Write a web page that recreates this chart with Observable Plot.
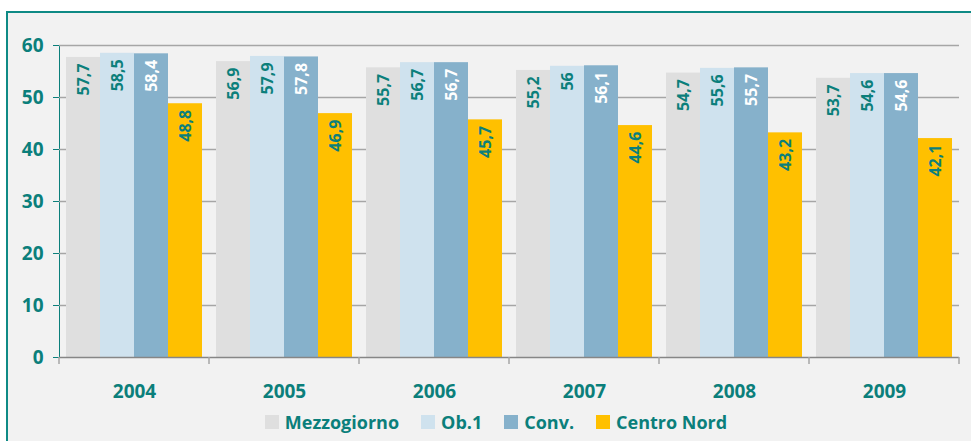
<!DOCTYPE html>
<html><head><meta charset="utf-8">
<script src="https://cdn.jsdelivr.net/npm/d3@7"></script>
<script src="https://cdn.jsdelivr.net/npm/@observablehq/plot@0.6"></script>
<style>
html,body{margin:0;padding:0;background:#fff;overflow:hidden;width:971px;height:441px;}
#panel{position:absolute;left:6px;top:11px;width:990px;height:450px;background:#F2F2F2;border-left:2px solid #0E8A85;border-top:2px solid #0E8A85;}
#chart{position:absolute;left:0;top:0;}
#legend{position:absolute;left:0;top:400px;width:976px;display:flex;justify-content:center;align-items:center;
  font-family:"Open Sans", sans-serif;font-weight:bold;font-size:18px;color:#0B7F7B;line-height:18px;}
#legend .item{display:flex;align-items:center;margin:0 11px;}
#legend .sw{width:14px;height:14px;margin-right:6px;}
#chart [aria-label="y-axis"] line, #chart [aria-label="y-axis"] path, #chart [aria-label="y-axis tick"], #chart [aria-label="y-axis line"]{stroke:#62A9A6;}
</style>
</head><body>
<div id="panel"><div id="chart"></div><div id="legend"></div></div>
<script>
const years = ["2004","2005","2006","2007","2008","2009"];
const series = ["Mezzogiorno","Ob.1","Conv.","Centro Nord"];
const mezzogiorno = [57.7,56.9,55.7,55.2,54.7,53.7];
const ob1 = [58.5,57.9,56.7,56,55.6,54.6];
const conv = [58.4,57.8,56.7,56.1,55.7,54.6];
const centroNord = [48.8,46.9,45.7,44.6,43.2,42.1];
const yTicks = [0,10,20,30,40,50,60];
const colors = ["#DFDFDF","#CFE2EE","#86B1CB","#FFC000"];

const TEAL = "#0B7F7B";
const FONT = "'Open Sans', sans-serif";
const valuesBySeries = [mezzogiorno, ob1, conv, centroNord];
const fmt = v => String(v).replace(".", ",");
const rows = years.flatMap((year, i) => series.map((s, j) => ({year, series: s, value: valuesBySeries[j][i], label: fmt(valuesBySeries[j][i])})));

const chart = Plot.plot({
  width: 963, height: 395,
  marginLeft: 51, marginRight: 12, marginTop: 32, marginBottom: 51,
  style: {background: "transparent", color: TEAL, fontFamily: FONT, fontSize: "19px", fontWeight: "bold", overflow: "visible"},
  facet: {data: rows, x: "year"},
  fx: {domain: years, padding: 0, axis: "bottom", tickSize: 0, tickPadding: 27, label: null},
  x: {domain: series, paddingInner: 0, paddingOuter: 0.2, axis: null},
  y: {domain: [0, 60], ticks: yTicks, tickSize: 6, tickPadding: 10, label: null, line: true},
  color: {domain: series, range: colors},
  marks: [
    Plot.ruleY(yTicks.filter(d => d > 0), {stroke: "#A6A6A6", strokeWidth: 1.5}),
    Plot.barY(rows, {x: "series", y: "value", fill: "series"}),
    Plot.ruleY([0], {stroke: "#868686", strokeWidth: 1.5}),
    Plot.text(rows, {filter: d => d.series !== "Conv.", x: "series", y: "value", text: "label", fill: TEAL, rotate: -90, textAnchor: "end", dy: 6, fontSize: 16, fontWeight: "bold"}),
    Plot.text(rows, {filter: d => d.series === "Conv.", x: "series", y: "value", text: "label", fill: "#FFFFFF", rotate: -90, textAnchor: "end", dy: 6, fontSize: 16, fontWeight: "bold"})
  ]
});
document.getElementById("chart").appendChild(chart);

// group boundary ticks on the x axis, from the plot's own scales
try {
  const fxs = chart.scale("fx");
  const ys = chart.scale("y");
  const band = d3.scaleBand(fxs.domain, fxs.range).paddingInner(fxs.paddingInner || 0).paddingOuter(fxs.paddingOuter || 0);
  const yl = d3.scaleLinear(ys.domain, ys.range);
  const xs = fxs.domain.map(d => band(d)).concat([band(fxs.domain[fxs.domain.length - 1]) + band.bandwidth()]);
  const y0 = yl(0);
  const svg = d3.select(chart.tagName.toLowerCase() === "svg" ? chart : chart.querySelector("svg"));
  svg.append("g").selectAll("line").data(xs).join("line")
    .attr("x1", d => d).attr("x2", d => d).attr("y1", y0).attr("y2", y0 + 7)
    .attr("stroke", "#A6A6A6").attr("stroke-width", 1.5);
} catch (e) { console.error(e); }

const legend = document.getElementById("legend");
series.forEach((s, i) => {
  const item = document.createElement("div");
  item.className = "item";
  const sw = document.createElement("span");
  sw.className = "sw";
  sw.style.background = colors[i];
  const t = document.createElement("span");
  t.textContent = s;
  item.appendChild(sw); item.appendChild(t);
  legend.appendChild(item);
});
</script>
</body></html>
